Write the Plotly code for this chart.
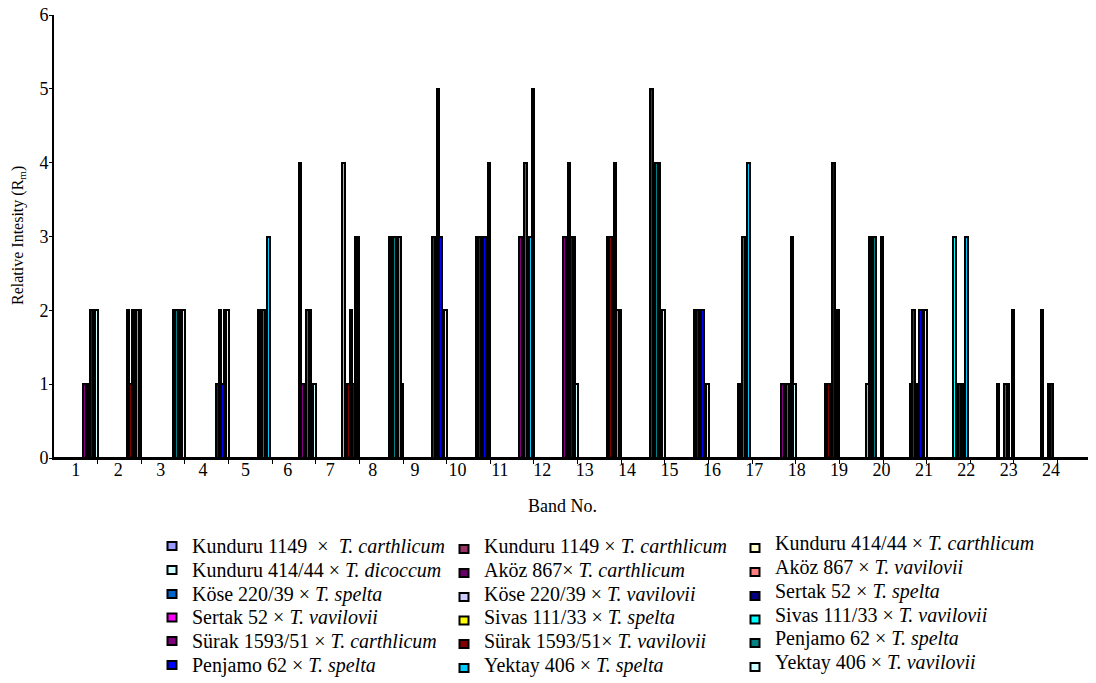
import plotly.graph_objects as go

bands = list(range(1, 25))
band_labels = [str(b) for b in bands]

names = [
    "Kunduru 1149\u00a0\u00a0×\u00a0\u00a0<i>T. carthlicum</i>",
    "Kunduru 1149 × <i>T. carthlicum</i>",
    "Kunduru 414/44 × <i>T. carthlicum</i>",
    "Kunduru 414/44 × <i>T. dicoccum</i>",
    "Aköz 867× <i>T. carthlicum</i>",
    "Aköz 867 × <i>T. vavilovii</i>",
    "Köse 220/39 × <i>T. spelta</i>",
    "Köse 220/39 × <i>T. vavilovii</i>",
    "Sertak 52 × <i>T. spelta</i>",
    "Sertak 52 × <i>T. vavilovii</i>",
    "Sivas 111/33 × <i>T. spelta</i>",
    "Sivas 111/33 × <i>T. vavilovii</i>",
    "Sürak 1593/51 × <i>T. carthlicum</i>",
    "Sürak 1593/51× <i>T. vavilovii</i>",
    "Penjamo 62 × <i>T. spelta</i>",
    "Penjamo 62 × <i>T. spelta</i>",
    "Yektay 406 × <i>T. spelta</i>",
    "Yektay 406 × <i>T. vavilovii</i>",
]
colors = ["#9999FF", "#993366", "#FFFFCC", "#CCFFFF", "#660066", "#FF8080",
          "#0066CC", "#CCCCFF", "#000080", "#FF00FF", "#FFFF00", "#00FFFF",
          "#800080", "#800000", "#008080", "#0000FF", "#00CCFF", "#CCFFFF"]

s01 = [0, 0, 0, 0, 0, 0, 0, 0, 0, 0, 0, 0, 0, 0, 0, 0, 0, 0, 0, 0, 0, 0, 0, 0]
s02 = [0, 0, 0, 0, 0, 0, 0, 0, 0, 0, 0, 0, 0, 0, 0, 0, 0, 0, 0, 0, 0, 0, 0, 0]
s03 = [0, 0, 0, 0, 0, 0, 0, 0, 0, 0, 0, 0, 0, 0, 0, 0, 0, 0, 0, 0, 0, 0, 0, 0]
s04 = [0, 0, 0, 0, 0, 0, 0, 0, 0, 0, 0, 0, 0, 0, 0, 0, 0, 0, 0, 0, 0, 0, 0, 0]
s05 = [0, 0, 0, 0, 0, 0, 0, 0, 0, 0, 0, 0, 0, 0, 0, 0, 0, 0, 0, 0, 0, 0, 0, 0]
s06 = [0, 0, 0, 0, 0, 0, 0, 0, 0, 0, 0, 0, 0, 0, 0, 0, 0, 0, 0, 0, 0, 0, 0, 0]
s07 = [0, 0, 0, 0, 0, 0, 0, 0, 0, 0, 0, 0, 0, 0, 0, 0, 0, 0, 0, 0, 0, 0, 0, 0]
s08 = [0, 0, 0, 0, 0, 0, 0, 0, 0, 0, 0, 0, 0, 0, 0, 0, 0, 0, 0, 0, 0, 0, 0, 0]
s09 = [0, 0, 0, 0, 0, 0, 0, 0, 0, 0, 0, 0, 0, 0, 0, 0, 0, 0, 0, 0, 0, 0, 0, 0]
s10 = [0, 0, 0, 0, 0, 0, 0, 0, 0, 0, 0, 0, 0, 0, 0, 0, 0, 0, 0, 0, 0, 0, 0, 0]
s11 = [0, 0, 0, 0, 0, 0, 0, 0, 0, 0, 0, 0, 0, 0, 0, 0, 0, 0, 0, 0, 0, 0, 0, 0]
s12 = [0, 0, 0, 0, 0, 4, 4, 0, 0, 0, 0, 0, 0, 0, 0, 0, 0, 0, 1, 1, 3, 1, 2, 0]
s13 = [1, 2, 0, 0, 2, 1, 1, 3, 3, 3, 3, 3, 3, 5, 2, 1, 1, 1, 3, 2, 0, 0, 0, 0]
s14 = [1, 1, 2, 1, 2, 1, 1, 3, 3, 3, 3, 3, 3, 2, 2, 1, 1, 1, 3, 1, 1, 0, 0, 0]
s15 = [1, 2, 2, 2, 2, 2, 2, 3, 5, 3, 4, 4, 1, 4, 2, 3, 1, 1, 3, 1, 1, 1, 1, 1]
s16 = [2, 1, 2, 1, 2, 2, 1, 1, 3, 3, 3, 3, 4, 4, 2, 3, 1, 4, 0, 2, 1, 1, 1, 1]
s17 = [2, 2, 2, 2, 3, 1, 3, 3, 2, 3, 3, 3, 2, 2, 1, 4, 3, 2, 0, 2, 3, 0, 0, 1]
s18 = [2, 2, 2, 2, 0, 1, 3, 1, 2, 4, 5, 1, 2, 2, 1, 0, 1, 2, 3, 2, 0, 2, 0, 1]

series = [s01, s02, s03, s04, s05, s06, s07, s08, s09, s10, s11, s12,
          s13, s14, s15, s16, s17, s18]

FONT = "Liberation Serif"

# The page body adds an 8 px offset; the figure is sized so that the final
# screenshot frame matches the reference frame.
OFF = 8
W, H = 1096 - OFF, 683 - OFF
L, T, B = 54 - OFF, 15 - OFF, 683 - 458
PW, PH = 1042, 443


def px(x):   # reference-frame pixel -> paper x
    return (x - 54) / PW


def py(y):   # reference-frame pixel -> paper y
    return (458 - y) / PH


fig = go.Figure()
for name, col, vals in zip(names, colors, series):
    fig.add_trace(go.Bar(
        x=bands, y=vals, name=name, showlegend=False,
        marker=dict(color=col, line=dict(color="black", width=2)),
    ))

# label positions drift slightly left of the group centres, as in the source
label_pos = [b - 0.0282 * (b - 1) for b in bands]
boundaries = [b + 0.5 for b in bands]

annotations = [
    dict(text="Band No.", xref="paper", yref="paper", x=px(562), y=py(506),
         xanchor="center", yanchor="middle", showarrow=False,
         font=dict(family=FONT, size=18)),
    dict(text="Relative Intesity (R<sub>m</sub>)", xref="paper", yref="paper",
         x=px(18), y=py(236), textangle=-90,
         xanchor="center", yanchor="middle", showarrow=False,
         font=dict(family=FONT, size=16)),
]
shapes = []

# legend laid out like the source: 3 columns, row-wise order
col_text_x = [190, 482, 773]
row_y = [546, 570, 594, 617.5, 641, 665]
col_text_dy = [0, 0, -3]
col_sym_dy = [0, 3, 5]
for i, (name, col) in enumerate(zip(names, colors)):
    r, c = divmod(i, 3)
    ty = row_y[r] + col_text_dy[c]
    annotations.append(dict(
        text=name, xref="paper", yref="paper",
        x=px(col_text_x[c]), y=py(ty), xanchor="left", yanchor="middle",
        showarrow=False, font=dict(family=FONT, size=20, color="black"),
    ))
    sx = col_text_x[c] - 18
    sy = ty + col_sym_dy[c]
    shapes.append(dict(
        type="rect", xref="paper", yref="paper",
        x0=px(sx - 4.5), x1=px(sx + 4.5), y0=py(sy + 4), y1=py(sy - 4),
        fillcolor=col, line=dict(color="black", width=2),
    ))

fig.update_layout(
    width=W, height=H,
    margin=dict(l=L, r=0, t=T, b=B, autoexpand=False),
    paper_bgcolor="white", plot_bgcolor="white",
    barmode="group", bargap=0, bargroupgap=0,
    font=dict(family=FONT, size=18, color="black"),
    showlegend=False,
    xaxis=dict(
        type="linear", range=[0.5, 24.38],
        tickmode="array", tickvals=label_pos, ticktext=band_labels,
        ticks="", showgrid=False, zeroline=False,
        showline=True, linecolor="black", linewidth=2,
        tickfont=dict(family=FONT, size=18), ticklabelstandoff=-6,
        ticklabeloverflow="allow",
        minor=dict(tickmode="array", tickvals=boundaries, ticks="outside",
                   ticklen=4, tickcolor="black", tickwidth=1, showgrid=False),
    ),
    yaxis=dict(
        range=[0, 6], tickvals=[0, 1, 2, 3, 4, 5, 6],
        ticks="outside", ticklen=3, tickcolor="black",
        showgrid=False, zeroline=False,
        showline=True, linecolor="black", linewidth=2,
        tickfont=dict(family=FONT, size=18), ticklabelstandoff=-3,
        ticklabeloverflow="allow",
    ),
    annotations=annotations,
    shapes=shapes,
)

fig.write_html("out.html")
